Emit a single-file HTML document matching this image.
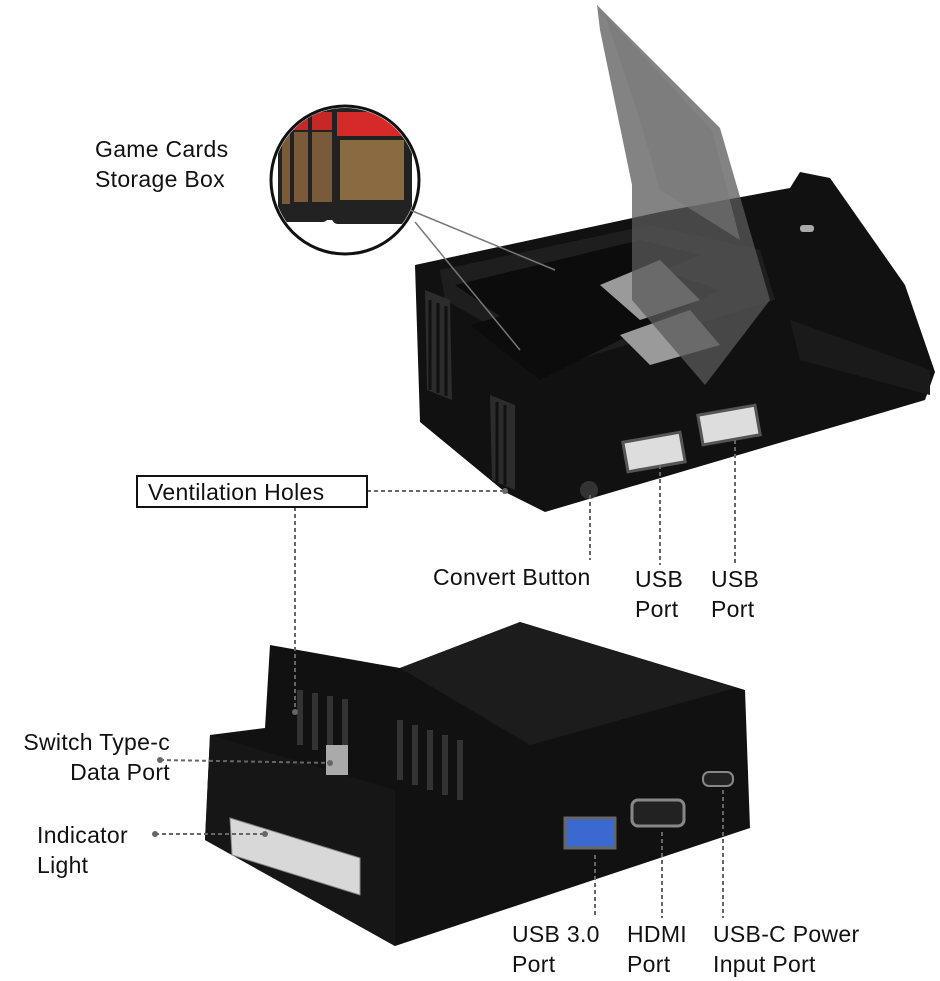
<!DOCTYPE html>
<html><head><meta charset="utf-8"><style>
body{margin:0;background:#fff;}
.w{position:relative;width:940px;height:981px;overflow:hidden;font-family:"Liberation Sans",sans-serif;}
.t{position:absolute;font-size:23px;color:#111;line-height:30px;letter-spacing:0.3px}
</style></head><body><div class="w">
<svg width="940" height="981" style="position:absolute;left:0;top:0">
<defs><clipPath id="c"><circle cx="345" cy="180" r="72"/></clipPath></defs>
<!-- top device -->
<polygon points="415,265 660,212 790,188 800,172 830,178 905,285 935,372 925,400 545,512 505,492 420,422" fill="#111"/>
<polygon points="440,270 650,225 760,250 775,300 560,365 445,300" fill="#1e1e1e"/>
<polygon points="455,285 640,240 700,255 520,330" fill="#0c0c0c"/>
<polygon points="470,325 660,270 720,290 540,380" fill="#0c0c0c"/>
<polygon points="600,285 660,260 700,300 640,320" fill="#9a9a9a"/>
<polygon points="620,335 690,310 720,345 650,365" fill="#9a9a9a"/>
<polygon points="790,320 930,370 930,395 800,360" fill="#1a1a1a"/>
<polygon points="597,5 720,128 770,300 705,385 632,300 632,185 600,30" fill="#5a5a5a" opacity="0.75"/>
<polygon points="605,15 712,130 740,240 660,190 640,120" fill="#7a7a7a" opacity="0.6"/>
<polygon points="425,290 450,300 452,400 427,390" fill="#2c2c2c"/>
<polygon points="490,395 515,405 515,490 492,480" fill="#2c2c2c"/>
<g stroke="#111" stroke-width="3"><line x1="430" y1="300" x2="430" y2="390"/><line x1="438" y1="303" x2="438" y2="393"/><line x1="446" y1="306" x2="446" y2="396"/><line x1="497" y1="402" x2="497" y2="482"/><line x1="505" y1="405" x2="505" y2="485"/></g>
<rect x="625" y="437" width="58" height="30" fill="#ddd" stroke="#555" stroke-width="3" transform="rotate(-10 654 452)"/>
<rect x="700" y="410" width="58" height="30" fill="#ddd" stroke="#555" stroke-width="3" transform="rotate(-10 729 425)"/>
<circle cx="589" cy="490" r="9" fill="#333"/>
<rect x="800" y="225" width="14" height="7" rx="3" fill="#aaa"/>
<!-- cards circle -->
<circle cx="345" cy="180" r="74" fill="#fff"/>
<g clip-path="url(#c)">
<rect x="278" y="110" width="50" height="112" rx="5" fill="#222"/><rect x="282" y="114" width="42" height="18" fill="#c62828"/><rect x="282" y="134" width="42" height="70" fill="#7a5a38"/>
<rect x="290" y="108" width="50" height="112" rx="5" fill="#222"/><rect x="294" y="112" width="42" height="18" fill="#c62828"/><rect x="294" y="132" width="42" height="70" fill="#7a5a38"/>
<rect x="308" y="108" width="50" height="112" rx="5" fill="#222"/><rect x="312" y="112" width="42" height="18" fill="#c62828"/><rect x="312" y="132" width="42" height="70" fill="#7a5a38"/>
<rect x="332" y="106" width="80" height="118" rx="6" fill="#222"/>
<rect x="337" y="112" width="70" height="24" fill="#d42a2a"/>
<rect x="340" y="140" width="64" height="60" fill="#8a6a40"/>
</g>
<circle cx="345" cy="180" r="74" fill="none" stroke="#111" stroke-width="3"/>
<line x1="410" y1="210" x2="555" y2="270" stroke="#777" stroke-width="1.5"/>
<line x1="415" y1="222" x2="520" y2="350" stroke="#777" stroke-width="1.5"/>
<!-- bottom device -->
<polygon points="270,645 400,668 520,622 745,690 750,828 395,946 205,840 210,735 265,728" fill="#111"/>
<polygon points="400,668 520,622 735,688 530,745" fill="#1c1c1c"/>
<polygon points="210,735 395,790 395,946 205,840" fill="#161616"/>
<g stroke="#333" stroke-width="6"><line x1="300" y1="690" x2="300" y2="745"/><line x1="315" y1="693" x2="315" y2="750"/><line x1="330" y1="696" x2="330" y2="753"/><line x1="345" y1="699" x2="345" y2="756"/><line x1="400" y1="720" x2="400" y2="780"/><line x1="415" y1="725" x2="415" y2="785"/><line x1="430" y1="730" x2="430" y2="790"/><line x1="445" y1="735" x2="445" y2="795"/><line x1="460" y1="740" x2="460" y2="800"/></g>
<rect x="326" y="745" width="22" height="30" fill="#aaa"/>
<polygon points="230,818 360,858 360,895 232,855" fill="#d8d8d8" stroke="#888"/>
<rect x="565" y="818" width="50" height="30" fill="#3a6ad0" stroke="#666" stroke-width="3"/>
<rect x="632" y="800" width="52" height="26" rx="6" fill="#222" stroke="#888" stroke-width="3"/>
<rect x="703" y="772" width="30" height="14" rx="6" fill="#222" stroke="#888" stroke-width="2"/>
<!-- dashed -->
<g stroke="#666" stroke-width="2" stroke-dasharray="4,3" fill="none">
<line x1="367" y1="491" x2="505" y2="491"/><line x1="295" y1="507" x2="295" y2="712"/>
<line x1="590" y1="495" x2="590" y2="560"/><line x1="660" y1="465" x2="660" y2="565"/><line x1="735" y1="440" x2="735" y2="565"/>
<line x1="160" y1="760" x2="332" y2="763"/><line x1="155" y1="834" x2="265" y2="834"/>
<line x1="595" y1="855" x2="595" y2="918"/><line x1="662" y1="832" x2="662" y2="918"/><line x1="723" y1="790" x2="723" y2="918"/>
</g>
<g fill="#666"><circle cx="505" cy="491" r="3"/><circle cx="295" cy="712" r="3"/><circle cx="330" cy="763" r="3"/><circle cx="160" cy="760" r="3"/><circle cx="155" cy="834" r="3"/><circle cx="265" cy="834" r="3"/></g>
<rect x="137" y="476" width="230" height="31" fill="#fff" stroke="#111" stroke-width="2"/>
</svg>
<div class="t" style="left:95px;top:134px">Game Cards<br>Storage Box</div>
<div class="t" style="left:148px;top:477px">Ventilation Holes</div>
<div class="t" style="left:433px;top:562px">Convert Button</div>
<div class="t" style="left:635px;top:564px">USB<br>Port</div>
<div class="t" style="left:711px;top:564px">USB<br>Port</div>
<div class="t" style="left:0px;top:727px;width:170px;text-align:right">Switch Type-c<br>Data Port</div>
<div class="t" style="left:37px;top:820px">Indicator<br>Light</div>
<div class="t" style="left:512px;top:919px">USB 3.0<br>Port</div>
<div class="t" style="left:627px;top:919px">HDMI<br>Port</div>
<div class="t" style="left:713px;top:919px">USB-C Power<br>Input Port</div>
</div></body></html>
